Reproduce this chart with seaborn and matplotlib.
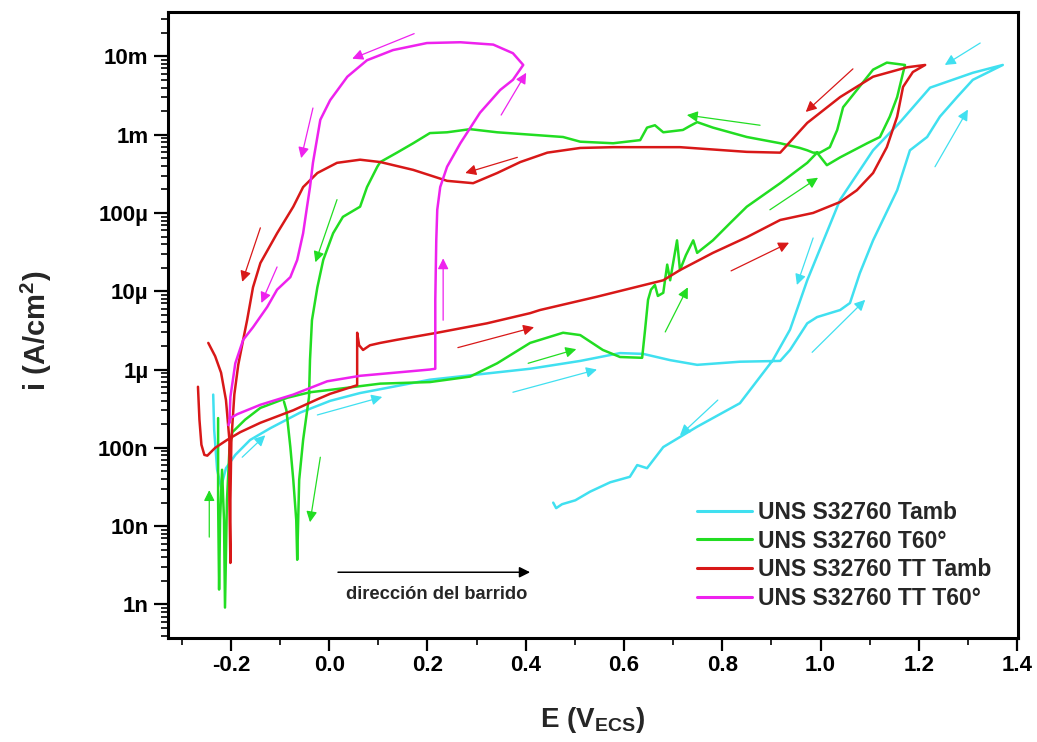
import numpy as np
import pandas as pd
import matplotlib
matplotlib.use("Agg")
import matplotlib.pyplot as plt
from matplotlib.ticker import FixedLocator, MultipleLocator, LogLocator, NullFormatter
import seaborn as sns

# ---------------------------------------------------------------------------
# Cyclic polarization scans: potential E (V vs SCE) and log10 of current
# density i (A/cm2). Each series is the forward scan followed by the reverse.
# ---------------------------------------------------------------------------
series_names = ["UNS S32760 Tamb", "UNS S32760 T60°",
                "UNS S32760 TT Tamb", "UNS S32760 TT T60°"]
series_colors = ["#40E0F0", "#22DD22", "#D81818", "#EE22EE"]

tamb_E = [-0.236, -0.234, -0.228, -0.220, -0.210, -0.191, -0.161, -0.120, -0.059, 0.002,
          0.063, 0.205, 0.307, 0.409, 0.511, 0.592, 0.639, 0.694, 0.749, 0.836,
          0.918, 0.938, 0.973, 0.993, 1.019, 1.040, 1.060, 1.080, 1.107, 1.156,
          1.182, 1.217, 1.243, 1.278, 1.310, 1.371,
          1.310, 1.223, 1.162, 1.107, 1.040, 0.973, 0.938, 0.903, 0.836, 0.749,
          0.680, 0.647, 0.627, 0.612, 0.572, 0.531, 0.501, 0.474, 0.462, 0.456]
tamb_logi = [-6.32, -6.77, -7.28, -7.50, -7.26, -7.09, -6.90, -6.75, -6.55, -6.40,
             -6.30, -6.13, -6.06, -5.99, -5.89, -5.79, -5.80, -5.88, -5.94, -5.90,
             -5.89, -5.75, -5.41, -5.33, -5.28, -5.24, -5.15, -4.77, -4.35, -3.71,
             -3.20, -3.03, -2.77, -2.52, -2.30, -2.11,
             -2.21, -2.40, -2.84, -3.20, -3.83, -4.86, -5.49, -5.88, -6.43, -6.73,
             -6.99, -7.26, -7.22, -7.37, -7.44, -7.56, -7.67, -7.72, -7.77, -7.70]

t60_E = [-0.226, -0.226, -0.224, -0.222, -0.218, -0.214, -0.212, -0.208, -0.203, -0.197,
         -0.171, -0.140, -0.085, -0.039, 0.002, 0.104, 0.205, 0.287, 0.342, 0.409,
         0.476, 0.511, 0.557, 0.592, 0.637, 0.643, 0.649, 0.655, 0.663, 0.669,
         0.680, 0.688, 0.694, 0.708, 0.714, 0.726, 0.741, 0.749, 0.781, 0.816,
         0.850, 0.918, 0.973, 0.993, 1.013, 1.040, 1.095, 1.121, 1.141, 1.156,
         1.168, 1.172,
         1.135, 1.107, 1.074, 1.046, 1.034, 1.019, 0.999, 0.985, 0.973, 0.958,
         0.918, 0.850, 0.781, 0.749, 0.734, 0.720, 0.680, 0.663, 0.647, 0.633,
         0.578, 0.511, 0.476, 0.409, 0.342, 0.287, 0.240, 0.205, 0.171, 0.138,
         0.104, 0.098, 0.077, 0.063, 0.028, 0.008, -0.012, -0.024, -0.035, -0.039,
         -0.041, -0.053, -0.061, -0.063, -0.065, -0.067, -0.073, -0.079, -0.087, -0.092]
t60_logi = [-6.62, -7.67, -8.81, -7.92, -7.28, -7.92, -9.04, -7.67, -7.03, -6.80,
            -6.64, -6.49, -6.36, -6.29, -6.26, -6.18, -6.16, -6.09, -5.92, -5.66,
            -5.53, -5.56, -5.75, -5.84, -5.85, -5.49, -5.11, -4.98, -4.92, -5.06,
            -5.02, -4.66, -4.86, -4.35, -4.73, -4.54, -4.35, -4.51, -4.35, -4.13,
            -3.92, -3.62, -3.36, -3.23, -3.39, -3.29, -3.11, -3.03, -2.77, -2.52,
            -2.21, -2.11,
            -2.08, -2.17, -2.43, -2.65, -2.94, -3.16, -3.23, -3.23, -3.20, -3.17,
            -3.11, -3.03, -2.91, -2.84, -2.89, -2.94, -2.97, -2.88, -2.91, -3.07,
            -3.11, -3.09, -3.03, -3.00, -2.97, -2.93, -2.97, -2.98, -3.11, -3.23,
            -3.35, -3.41, -3.67, -3.92, -4.05, -4.26, -4.60, -4.95, -5.37, -5.88,
            -6.35, -6.90, -7.41, -7.92, -8.43, -7.92, -7.41, -6.99, -6.52, -6.41]

tt_tamb_E = [-0.267, -0.264, -0.260, -0.254, -0.248, -0.232, -0.208, -0.181, -0.140, -0.073,
             -0.024, 0.002, 0.057, 0.057, 0.061, 0.069, 0.083, 0.104, 0.138, 0.220,
             0.321, 0.409, 0.429, 0.545, 0.680, 0.714, 0.781, 0.850, 0.918, 0.985,
             1.040, 1.074, 1.107, 1.135, 1.156, 1.168, 1.188, 1.213,
             1.176, 1.107, 1.040, 0.973, 0.918, 0.850, 0.714, 0.578, 0.511, 0.444,
             0.389, 0.342, 0.293, 0.240, 0.171, 0.104, 0.063, 0.016, -0.024, -0.053,
             -0.073, -0.106, -0.140, -0.155, -0.167, -0.175, -0.185, -0.193, -0.199, -0.201,
             -0.201, -0.203, -0.203, -0.210, -0.220, -0.232, -0.246]
tt_tamb_logi = [-6.22, -6.64, -6.96, -7.09, -7.10, -7.00, -6.90, -6.80, -6.68, -6.52,
                -6.38, -6.31, -6.20, -5.53, -5.69, -5.75, -5.69, -5.66, -5.62, -5.53,
                -5.41, -5.28, -5.24, -5.07, -4.86, -4.73, -4.51, -4.31, -4.09, -4.00,
                -3.86, -3.71, -3.49, -3.16, -2.77, -2.39, -2.20, -2.11,
                -2.14, -2.26, -2.52, -2.85, -3.23, -3.22, -3.16, -3.16, -3.17, -3.23,
                -3.35, -3.49, -3.62, -3.59, -3.45, -3.35, -3.32, -3.36, -3.49, -3.67,
                -3.92, -4.26, -4.64, -4.95, -5.37, -5.62, -5.94, -6.32, -6.90, -7.67,
                -8.47, -7.67, -6.90, -6.39, -6.04, -5.83, -5.66]

tt_t60_E = [-0.205, -0.201, -0.187, -0.140, -0.073, -0.004, 0.063, 0.205, 0.216, 0.216,
            0.218, 0.220, 0.226, 0.240, 0.267, 0.307, 0.348, 0.374, 0.395,
            0.374, 0.334, 0.267, 0.199, 0.130, 0.077, 0.037, 0.002, -0.018, -0.024,
            -0.033, -0.039, -0.045, -0.053, -0.065, -0.079, -0.106, -0.126, -0.155, -0.175,
            -0.191, -0.201, -0.203]
tt_t60_logi = [-6.71, -6.62, -6.57, -6.45, -6.32, -6.15, -6.08, -6.00, -5.99, -5.11,
               -4.35, -3.96, -3.67, -3.41, -3.11, -2.72, -2.43, -2.30, -2.11,
               -1.96, -1.85, -1.82, -1.83, -1.92, -2.05, -2.26, -2.56, -2.81, -3.03,
               -3.36, -3.67, -3.92, -4.26, -4.60, -4.82, -4.98, -5.20, -5.46, -5.62,
               -5.92, -6.35, -6.68]

# Scan-direction arrows: (series index, E tail, logi tail, E head, logi head)
scan_arrows = [
    (0, 1.325, -1.83, 1.253, -2.11), (0, 1.233, -3.41, 1.300, -2.68),
    (0, 0.983, -5.78, 1.091, -5.11), (0, 0.985, -4.32, 0.952, -4.92),
    (0, 0.791, -6.39, 0.714, -6.84), (0, 0.374, -6.29, 0.545, -6.00),
    (0, -0.024, -6.58, 0.108, -6.35), (0, -0.177, -7.12, -0.130, -6.84),
    (1, 0.877, -2.88, 0.728, -2.75), (1, 0.897, -3.96, 0.995, -3.55),
    (1, 0.684, -5.52, 0.730, -4.95), (1, 0.405, -5.92, 0.503, -5.74),
    (1, 0.016, -3.83, -0.028, -4.63), (1, -0.018, -7.12, -0.039, -7.95),
    (1, -0.244, -8.14, -0.244, -7.54),
    (2, 1.066, -2.16, 0.970, -2.71), (2, 0.818, -4.74, 0.936, -4.38),
    (2, 0.262, -5.72, 0.417, -5.46), (2, 0.383, -3.29, 0.277, -3.49),
    (2, -0.140, -4.19, -0.177, -4.88),
    (3, 0.173, -1.71, 0.047, -2.03), (3, 0.350, -2.75, 0.401, -2.21),
    (3, -0.033, -2.66, -0.057, -3.30), (3, -0.106, -4.69, -0.138, -5.15),
    (3, 0.232, -5.37, 0.232, -4.58),
]

ytick_values = [1e-9, 1e-8, 1e-7, 1e-6, 1e-5, 1e-4, 1e-3, 1e-2]
ytick_labels = ["1n", "10n", "100n", "1µ", "10µ", "100µ", "1m", "10m"]
xtick_values = [-0.2, 0.0, 0.2, 0.4, 0.6, 0.8, 1.0, 1.2, 1.4]

# ---------------------------------------------------------------------------
frames = []
for name, E, logi in zip(series_names,
                         [tamb_E, t60_E, tt_tamb_E, tt_t60_E],
                         [tamb_logi, t60_logi, tt_tamb_logi, tt_t60_logi]):
    frames.append(pd.DataFrame({"E": E, "i": np.power(10.0, logi), "serie": name}))
df = pd.concat(frames, ignore_index=True)

sns.set_style("ticks")
plt.rcParams["font.family"] = ["Liberation Sans", "DejaVu Sans"]
plt.rcParams["font.weight"] = "bold"
plt.rcParams["mathtext.fontset"] = "custom"
plt.rcParams["mathtext.rm"] = "Liberation Sans:bold"
plt.rcParams["mathtext.bf"] = "Liberation Sans:bold"
plt.rcParams["mathtext.it"] = "Liberation Sans:bold"

fig = plt.figure(figsize=(10.37, 7.42), dpi=100)
ax = fig.add_axes([0.1620, 0.1402, 0.8197, 0.8437])
ax.set_yscale("log")

sns.lineplot(data=df, x="E", y="i", hue="serie", hue_order=series_names,
             palette=series_colors, sort=False, estimator=None, lw=1.8, ax=ax)

for k, e0, l0, e1, l1 in scan_arrows:
    ax.annotate("", xy=(e1, 10 ** l1), xytext=(e0, 10 ** l0),
                arrowprops=dict(arrowstyle="-|>", color=series_colors[k], lw=0.9,
                                mutation_scale=16, shrinkA=0, shrinkB=0))

# sweep direction marker
ax.annotate("", xy=(0.426, 0.105), xytext=(0.200, 0.105), xycoords="axes fraction",
            arrowprops=dict(arrowstyle="-|>", color="black", lw=1.1,
                            mutation_scale=16, shrinkA=0, shrinkB=0))
ax.text(0.316, 0.070, "dirección del barrido", transform=ax.transAxes,
        ha="center", va="center", fontsize=13.2, fontweight="bold")

ax.set_xlim(-0.328, 1.402)
ax.set_ylim(3.73e-10, 3.69e-2)

ax.xaxis.set_major_locator(FixedLocator(xtick_values))
ax.xaxis.set_minor_locator(MultipleLocator(0.1))
ax.set_xticklabels([f"{v:.1f}" for v in xtick_values])
ax.yaxis.set_major_locator(FixedLocator(ytick_values))
ax.yaxis.set_minor_locator(LogLocator(base=10, subs=np.arange(2, 10), numticks=30))
ax.yaxis.set_minor_formatter(NullFormatter())
ax.set_yticklabels(ytick_labels)

ax.tick_params(axis="both", which="major", direction="out", width=1.6,
               labelsize=16, colors="black")
ax.tick_params(axis="x", which="major", length=9, pad=3)
ax.tick_params(axis="y", which="major", length=10, pad=4)
ax.tick_params(axis="both", which="minor", direction="out", width=1.4, length=5)
for lab in ax.get_xticklabels() + ax.get_yticklabels():
    lab.set_fontweight("bold")

for side in ["left", "right", "top", "bottom"]:
    ax.spines[side].set_visible(True)
    ax.spines[side].set_linewidth(2.2)
    ax.spines[side].set_color("black")

ax.set_xlabel(r"$\mathbf{E\ (V_{ECS})}$", fontsize=20)
ax.set_ylabel(r"$\mathbf{i\ (A/cm^{2})}$", fontsize=21)
ax.xaxis.set_label_coords(0.5, -0.107)
ax.yaxis.set_label_coords(-0.134, 0.49)

handles, labels = ax.get_legend_handles_labels()
ax.legend(handles, labels, loc="upper left", bbox_to_anchor=(0.622, 0.2195),
          frameon=False, handlelength=2.4, handletextpad=0.28,
          labelspacing=0.26, borderpad=0, borderaxespad=0,
          prop={"weight": "bold", "size": 16.5})
for line in ax.get_legend().get_lines():
    line.set_linewidth(2.2)

fig.savefig("out.png", dpi=100, facecolor="white")
